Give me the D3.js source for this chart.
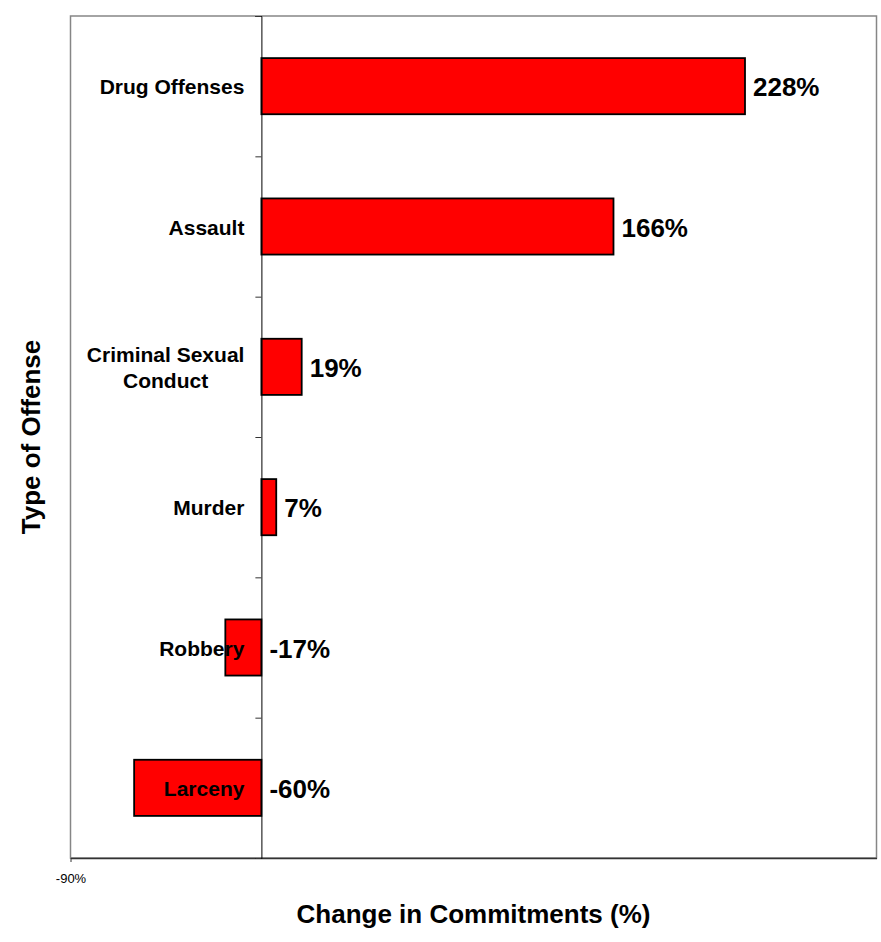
<!DOCTYPE html>
<html>
<head>
<meta charset="utf-8">
<script src="https://cdn.jsdelivr.net/npm/d3@7"></script>
<style>
  body { margin: 0; background: #fff; }
  text { font-family: "Liberation Sans", Arial, sans-serif; }
</style>
</head>
<body>
<div id="chart"></div>
<script>
// data
var categories = ["Drug Offenses", "Assault", "Criminal Sexual Conduct", "Murder", "Robbery", "Larceny"];
var changes = [228, 166, 19, 7, -17, -60];
var xDomain = [-90, 290];
var xTickValues = [-90];

var W = 881, H = 942;
var plot = { left: 70.5, right: 876.5, top: 16, bottom: 858 };

var svg = d3.select("#chart")
  .append("svg")
  .attr("width", W)
  .attr("height", H);

var x = d3.scaleLinear().domain(xDomain).range([plot.left, plot.right]);
var y = d3.scaleBand()
  .domain(categories)
  .range([plot.top, plot.bottom])
  .paddingInner(0.6)
  .paddingOuter(0.3);
// boundaries between categories, for the tick marks
var yEdge = d3.scaleLinear().domain([0, categories.length]).range([plot.top, plot.bottom]);

// plot frame
svg.append("rect")
  .attr("x", plot.left)
  .attr("y", plot.top)
  .attr("width", plot.right - plot.left)
  .attr("height", plot.bottom - plot.top)
  .attr("fill", "none")
  .attr("stroke", "#868686")
  .attr("stroke-width", 1.5);

// x axis (only -90% labelled)
var xAxis = svg.append("g")
  .attr("transform", "translate(0," + plot.bottom + ")")
  .call(d3.axisBottom(x).tickValues(xTickValues).tickSize(4).tickSizeOuter(0).tickPadding(12)
    .tickFormat(function (d) { return d + "%"; }));
xAxis.select(".domain").attr("stroke", "#333").attr("stroke-width", 1.5);
xAxis.selectAll(".tick line").attr("stroke", "#333");
xAxis.selectAll(".tick text")
  .attr("font-family", "'Liberation Sans', Arial, sans-serif")
  .attr("font-size", 13)
  .attr("fill", "#000");

// bars
svg.selectAll(".bar")
  .data(categories)
  .enter()
  .append("rect")
  .attr("class", "bar")
  .attr("x", function (d, i) { return x(Math.min(0, changes[i])); })
  .attr("y", function (d) { return y(d); })
  .attr("width", function (d, i) { return Math.abs(x(changes[i]) - x(0)); })
  .attr("height", y.bandwidth())
  .attr("fill", "#ff0000")
  .attr("stroke", "#000")
  .attr("stroke-width", 1.8);

// category axis at zero
var yAxis = svg.append("g")
  .attr("transform", "translate(" + x(0) + ",0)")
  .call(d3.axisLeft(yEdge).tickValues(d3.range(0, categories.length + 1)).tickSize(6).tickFormat(""));
yAxis.select(".domain").attr("stroke", "#000").attr("stroke-width", 1);
yAxis.selectAll(".tick line").attr("stroke", "#333");

// category labels, wrapped and right aligned next to the axis
var labelRight = x(0) - 17;
var lineH = 26;
categories.forEach(function (cat) {
  var words = cat.split(" ");
  var lines = [];
  var cur = "";
  var probe = svg.append("text").attr("font-size", 21).attr("font-weight", "bold");
  words.forEach(function (w) {
    var test = cur ? cur + " " + w : w;
    probe.text(test);
    if (cur && probe.node().getComputedTextLength() > 170) {
      lines.push(cur);
      cur = w;
    } else {
      cur = test;
    }
  });
  lines.push(cur);
  var widest = 0;
  lines.forEach(function (l) {
    probe.text(l);
    widest = Math.max(widest, probe.node().getComputedTextLength());
  });
  probe.remove();
  var cy = y(cat) + y.bandwidth() / 2;
  var t = svg.append("text")
    .attr("class", "cat-label")
    .attr("x", labelRight - widest / 2)
    .attr("y", cy - (lines.length - 1) * lineH / 2)
    .attr("text-anchor", "middle")
    .attr("dominant-baseline", "central")
    .attr("font-size", 21)
    .attr("font-weight", "bold")
    .attr("fill", "#000");
  lines.forEach(function (l, k) {
    t.append("tspan")
      .attr("x", labelRight - widest / 2)
      .attr("dy", k === 0 ? 0 : lineH)
      .text(l);
  });
});

// value labels
svg.selectAll(".val")
  .data(categories)
  .enter()
  .append("text")
  .attr("class", "val")
  .attr("x", function (d, i) { return Math.max(x(0), x(changes[i])) + 8; })
  .attr("y", function (d) { return y(d) + y.bandwidth() / 2 + 1; })
  .attr("dominant-baseline", "central")
  .attr("font-size", 26)
  .attr("font-weight", "bold")
  .attr("fill", "#000")
  .text(function (d, i) { return changes[i] + "%"; });

// axis titles
svg.append("text")
  .attr("x", (plot.left + plot.right) / 2)
  .attr("y", 923)
  .attr("text-anchor", "middle")
  .attr("font-size", 26)
  .attr("font-weight", "bold")
  .text("Change in Commitments (%)");

svg.append("text")
  .attr("transform", "translate(40," + (plot.top + plot.bottom) / 2 + ") rotate(-90)")
  .attr("text-anchor", "middle")
  .attr("font-size", 26)
  .attr("font-weight", "bold")
  .text("Type of Offense");
</script>
</body>
</html>
